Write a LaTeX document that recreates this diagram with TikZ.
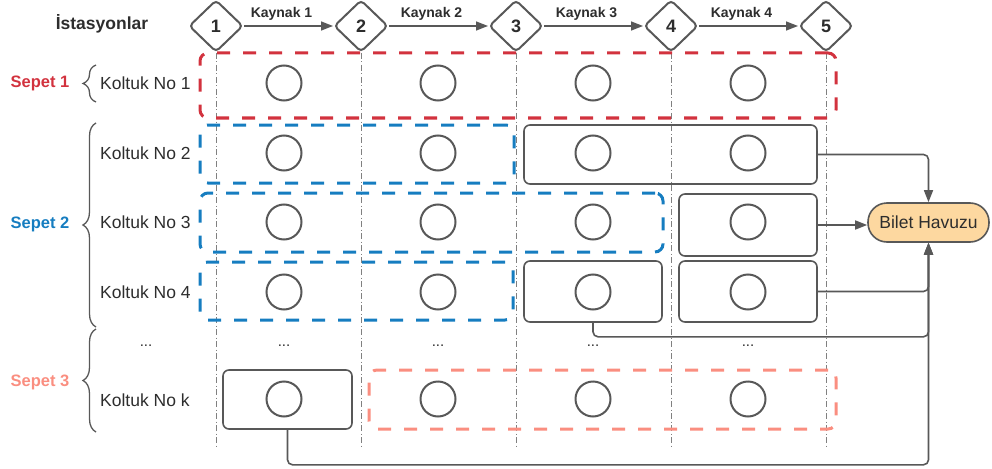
\documentclass[tikz,border=0pt]{standalone}
\usepackage{fontspec}
\setmainfont{Liberation Sans}
\usetikzlibrary{shapes.geometric,arrows.meta,decorations.pathreplacing}
\definecolor{sred}{RGB}{210,50,62}
\definecolor{sblue}{RGB}{22,125,192}
\definecolor{spink}{RGB}{250,142,128}
\definecolor{lgray}{RGB}{88,88,88}
\definecolor{txt}{RGB}{45,45,45}
\definecolor{pool}{RGB}{253,216,160}
\begin{document}
\begin{tikzpicture}[x=1pt,y=-1pt,
  station/.style={diamond,draw=lgray,line width=2pt,rounded corners=4pt,fill=white,
    minimum width=54pt,minimum height=52pt,inner sep=0pt,text=txt,
    font=\fontsize{18}{20}\selectfont\bfseries},
  seat/.style={circle,draw=lgray,line width=2pt,minimum size=35pt,inner sep=0pt},
  solidbox/.style={rectangle,draw=lgray,line width=1.6pt,rounded corners=6pt,inner sep=0pt},
  basket/.style={rectangle,line width=3pt,rounded corners=8pt,inner sep=0pt,
    dash pattern=on 13pt off 13pt},
  grid line/.style={draw=gray,line width=0.7pt,dash pattern=on 6pt off 2.5pt on 1pt off 2.5pt},
  flow/.style={draw=lgray,line width=1.6pt,rounded corners=5pt,
    -{Triangle[length=12pt,width=9pt]}},
  rowlabel/.style={anchor=west,inner sep=0pt,text=txt,font=\fontsize{17.5}{20}\selectfont},
  dots/.style={text=txt,font=\fontsize{15}{18}\selectfont},
  sepet/.style={font=\fontsize{16.5}{20}\selectfont\bfseries},
  grp/.style={draw=lgray,line width=1.3pt,decorate,decoration={brace,amplitude=13pt}},
  src/.style={text=txt,font=\fontsize{14}{17}\selectfont\bfseries,anchor=base,
    midway,yshift=8pt,xshift=-7pt}
]
\useasboundingbox (0,0) rectangle (992,468);

% stations
\node[text=txt,font=\fontsize{17.5}{20}\selectfont\bfseries] (ist) at (102,24) {İstasyonlar};
\node[station] (s1) at (216,26) {1};
\node[station] (s2) at (361,26) {2};
\node[station] (s3) at (516,26) {3};
\node[station] (s4) at (671,26) {4};
\node[station] (s5) at (826,26) {5};

% station boundaries
\foreach \s in {s1,s2,s3,s4,s5}
  \draw[grid line] (\s.south) -- (\s.south |- 0,448);

% resources between stations
\draw[flow] (s1.east) -- (s2.west) node[src] {Kaynak 1};
\draw[flow] (s2.east) -- (s3.west) node[src] {Kaynak 2};
\draw[flow] (s3.east) -- (s4.west) node[src] {Kaynak 3};
\draw[flow] (s4.east) -- (s5.west) node[src] {Kaynak 4};

% seat rows
\node[rowlabel] (r1) at (100,83) {Koltuk No 1};
\node[rowlabel] (r2) at (100,153) {Koltuk No 2};
\node[rowlabel] (r3) at (100,222) {Koltuk No 3};
\node[rowlabel] (r4) at (100,292) {Koltuk No 4};
\node[dots] (rd) at (146,346) {...};
\node[rowlabel] (rk) at (100,400) {Koltuk No k};

% seat-leg slots
\foreach \x/\c in {284/a,438/b,593/c,748/d}{
  \node[seat] (p1\c) at (\x,83) {};
  \node[seat] (p2\c) at (\x,153) {};
  \node[seat] (p3\c) at (\x,222) {};
  \node[seat] (p4\c) at (\x,292) {};
  \node[dots] (pd\c) at (\x,346) {...};
  \node[seat] (pk\c) at (\x,399) {};
}

% baskets
\node[basket,draw=sred,minimum width=636pt,minimum height=65pt] (b1) at (518,85.5) {};
\node[basket,draw=sblue,minimum width=314pt,minimum height=58pt] (b2) at (357,154) {};
\node[basket,draw=sblue,minimum width=463pt,minimum height=59pt] (b3) at (431.5,222.5) {};
\node[basket,draw=sblue,minimum width=313pt,minimum height=58pt] (b4) at (356.5,291) {};
\node[basket,draw=spink,minimum width=467pt,minimum height=59pt] (bk) at (602.5,399.5) {};

% unsold segments
\node[solidbox,minimum width=293pt,minimum height=59pt] (u2) at (670.5,154.5) {};
\node[solidbox,minimum width=138pt,minimum height=62pt] (u3) at (748,225) {};
\node[solidbox,minimum width=138pt,minimum height=61pt] (u4a) at (593,291.5) {};
\node[solidbox,minimum width=138pt,minimum height=61pt] (u4b) at (748,291.5) {};
\node[solidbox,minimum width=129pt,minimum height=59pt] (uk) at (287.5,399.5) {};

% ticket pool
\node[rectangle,rounded corners=19pt,draw=lgray,line width=1.6pt,fill=pool,
  minimum width=121pt,minimum height=39pt,inner sep=0pt,text=txt,
  font=\fontsize{17.5}{20}\selectfont] (pool) at (928.5,222.5) {Bilet Havuzu};

\draw[flow] (u2.east) -| (pool.north);
\draw[flow] (u3.east) -- (u3.east -| pool.west);
\draw[flow] (u4b.east) -| (pool.south);
\draw[flow] (u4a.south) -- ++(0,14) -| (pool.south);
\draw[flow] (uk.south) -- ++(0,35) -| (pool.south);

% baskets of seats
\draw[grp] (96,102) -- (96,65);
\draw[grp] (96,327) -- (96,123);
\draw[grp] (96,432) -- (96,329);
\node[sepet,text=sred] (g1) at (40,83) {Sepet 1};
\node[sepet,text=sblue] (g2) at (40,224) {Sepet 2};
\node[sepet,text=spink] (g3) at (40,382) {Sepet 3};
\end{tikzpicture}
\end{document}
